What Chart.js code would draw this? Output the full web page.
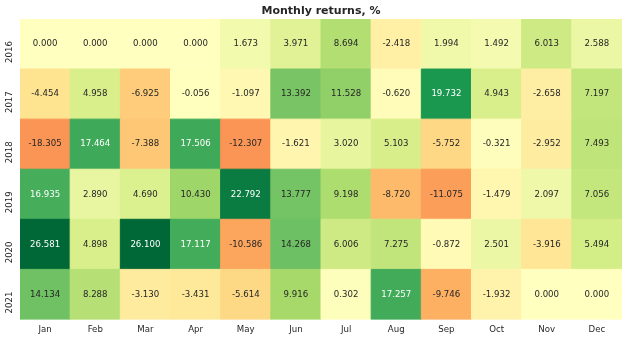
<!DOCTYPE html>
<html>
<head>
<meta charset="utf-8">
<script src="https://cdn.jsdelivr.net/npm/chart.js@4/dist/chart.umd.min.js"></script>
<style>
  html, body { margin: 0; padding: 0; background: #ffffff; }
  #wrap { width: 644px; height: 352px; position: relative; }
</style>
</head>
<body>
<div id="wrap"><canvas id="c"></canvas></div>
<script>
const months = ['Jan','Feb','Mar','Apr','May','Jun','Jul','Aug','Sep','Oct','Nov','Dec'];
const years = ['2016','2017','2018','2019','2020','2021'];
const r2016 = [0.000, 0.000, 0.000, 0.000, 1.673, 3.971, 8.694, -2.418, 1.994, 1.492, 6.013, 2.588];
const r2017 = [-4.454, 4.958, -6.925, -0.056, -1.097, 13.392, 11.528, -0.620, 19.732, 4.943, -2.658, 7.197];
const r2018 = [-18.305, 17.464, -7.388, 17.506, -12.307, -1.621, 3.020, 5.103, -5.752, -0.321, -2.952, 7.493];
const r2019 = [16.935, 2.890, 4.690, 10.430, 22.792, 13.777, 9.198, -8.720, -11.075, -1.479, 2.097, 7.056];
const r2020 = [26.581, 4.898, 26.100, 17.117, -10.586, 14.268, 6.006, 7.275, -0.872, 2.501, -3.916, 5.494];
const r2021 = [14.134, 8.288, -3.130, -3.431, -5.614, 9.916, 0.302, 17.257, -9.746, -1.932, 0.000, 0.000];
const rows = [r2016, r2017, r2018, r2019, r2020, r2021];
const titleText = 'Monthly returns, %';

// RdYlGn colour map stops
const RdYlGn = ['#a50026','#d73027','#f46d43','#fdae61','#fee08b','#ffffbf','#d9ef8b','#a6d96a','#66bd63','#1a9850','#006837'];
function hexToRgb(h){ return [parseInt(h.slice(1,3),16), parseInt(h.slice(3,5),16), parseInt(h.slice(5,7),16)]; }
const stops = RdYlGn.map(hexToRgb);
function cmap(t){
  t = Math.max(0, Math.min(1, t));
  const p = t * (stops.length - 1);
  const i = Math.min(Math.floor(p), stops.length - 2);
  const f = p - i;
  return stops[i].map((c, k) => Math.round(c + (stops[i+1][k] - c) * f));
}
// robust range (2nd / 98th percentile), centred at 0
const all = rows.flat().slice().sort((a,b)=>a-b);
function pct(q){ const idx = q/100*(all.length-1); const lo = Math.floor(idx); const hi = Math.ceil(idx); return all[lo] + (all[hi]-all[lo])*(idx-lo); }
const vmin = pct(2), vmax = pct(98);
const vrange = Math.max(vmax, -vmin);
function colorFor(v){
  const vc = Math.max(vmin, Math.min(vmax, v));
  const t = 0.5 + vc / (2 * vrange);
  return cmap(t);
}
function lum(rgb){
  const l = rgb.map(c => { c = c/255; return c <= 0.03928 ? c/12.92 : Math.pow((c+0.055)/1.055, 2.4); });
  return 0.2126*l[0] + 0.7152*l[1] + 0.0722*l[2];
}

const points = [];
years.forEach((y, yi) => {
  months.forEach((m, mi) => {
    points.push({ x: m, y: y, v: rows[yi][mi] });
  });
});
const cellColors = points.map(p => { const c = colorFor(p.v); return `rgb(${c[0]},${c[1]},${c[2]})`; });

const FONT = "'DejaVu Sans', 'Liberation Sans', sans-serif";

const cellRadius = (ctx) => {
  const chart = ctx.chart;
  const a = chart.chartArea;
  if (!a) return 0;
  const cw = (a.right - a.left) / months.length;
  const ch = (a.bottom - a.top) / years.length;
  return Math.max(cw, ch) / 2 / Math.SQRT1_2;
};

const annotPlugin = {
  id: 'annot',
  afterDatasetsDraw(chart) {
    const ctx = chart.ctx;
    const meta = chart.getDatasetMeta(0);
    ctx.save();
    ctx.font = `8.6px ${FONT}`;
    ctx.textAlign = 'center';
    ctx.textBaseline = 'middle';
    meta.data.forEach((el, i) => {
      const v = points[i].v;
      const c = colorFor(v);
      ctx.fillStyle = lum(c) > 0.408 ? '#262626' : '#ffffff';
      ctx.fillText(v.toFixed(3), el.x, el.y);
    });
    // year labels, rotated (matplotlib-style offset below the row centre)
    const ys = chart.scales.y;
    ctx.fillStyle = '#262626';
    years.forEach((y) => {
      const py = ys.getPixelForValue(y);
      ctx.save();
      ctx.translate(10, py + 8);
      ctx.rotate(-Math.PI / 2);
      ctx.fillText(y, 0, 0);
      ctx.restore();
    });
    ctx.restore();
  }
};

new Chart(document.getElementById('c'), {
  type: 'scatter',
  data: {
    datasets: [{
      data: points,
      pointStyle: 'rect',
      pointRadius: cellRadius,
      pointHoverRadius: cellRadius,
      backgroundColor: cellColors,
      borderColor: cellColors,
      borderWidth: 1,
      clip: 0
    }]
  },
  options: {
    responsive: true,
    maintainAspectRatio: false,
    animation: false,
    events: [],
    layout: { padding: { left: 20, right: 22, top: 0, bottom: 0 } },
    plugins: {
      legend: { display: false },
      tooltip: { enabled: false },
      title: {
        display: true,
        text: titleText,
        color: '#262626',
        font: { family: FONT, size: 11, weight: 'bold' },
        padding: { top: 4.8, bottom: 1 }
      }
    },
    scales: {
      x: {
        type: 'category',
        labels: months,
        offset: true,
        grid: { display: false, drawTicks: false },
        border: { display: false },
        ticks: { color: '#262626', font: { family: FONT, size: 8.6 }, padding: 5.5, maxRotation: 0, autoSkip: false },
        afterFit: (s) => { s.height = 32.5; }
      },
      y: {
        type: 'category',
        labels: years,
        offset: true,
        grid: { display: false, drawTicks: false },
        border: { display: false },
        ticks: { display: false },
        afterFit: (s) => { s.width = 0; }
      }
    }
  },
  plugins: [annotPlugin]
});
</script>
</body>
</html>
